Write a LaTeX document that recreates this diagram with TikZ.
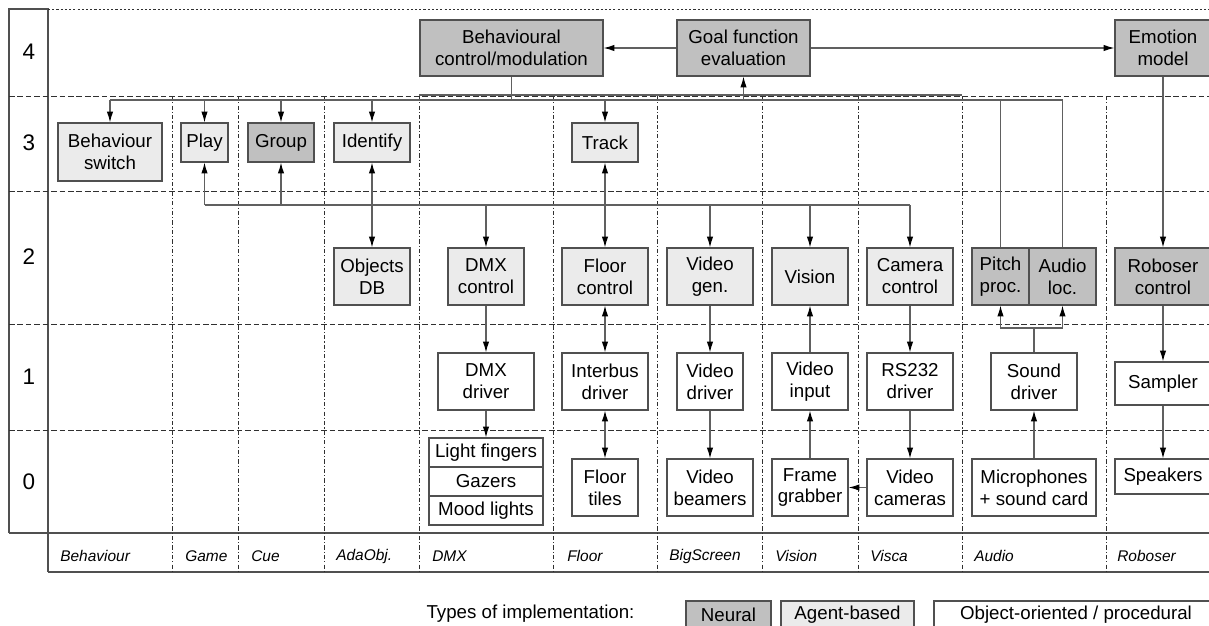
\documentclass[tikz,border=0pt]{standalone}
\usepackage{fontspec}
\setmainfont{Liberation Sans}
\usetikzlibrary{arrows.meta,positioning}
\definecolor{neuralfill}{HTML}{C0C0C0}
\definecolor{agentfill}{HTML}{EBEBEB}
\definecolor{boxline}{HTML}{505050}
\definecolor{wireline}{HTML}{606060}
\definecolor{gridline}{HTML}{303030}

\begin{document}
\begin{tikzpicture}[x=0.025cm,y=-0.025cm]
\tikzset{module/.style={draw=boxline,line width=0.8pt,align=center,inner sep=1pt,font=\fontsize{13.3}{15.6}\selectfont},
  neural/.style={module,fill=neuralfill},
  agent/.style={module,fill=agentfill},
  objproc/.style={module,fill=white},
  wire/.style={draw=wireline,line width=0.8pt},
  towire/.style={wire,-{Latex[length=2.7mm,width=1.6mm,color=black]}},
  bothwire/.style={wire,{Latex[length=2.7mm,width=1.6mm,color=black]}-{Latex[length=2.7mm,width=1.6mm,color=black]}},
  frame/.style={draw=boxline,line width=0.8pt},
  rowline/.style={draw=gridline,line width=0.5pt,dash pattern=on 4pt off 2pt},
  colline/.style={draw=gridline,line width=0.5pt,dash pattern=on 3pt off 1.5pt on 0.8pt off 1.5pt},
  layernum/.style={font=\fontsize{16}{18}\selectfont},
  subsys/.style={anchor=west,inner sep=0pt,font=\fontsize{11}{13}\selectfont\itshape}}
\useasboundingbox (0,0) rectangle (1209,625);

\draw[frame] (9,533) -- (9,9) -- (48,9) -- (48,572);
\draw[frame] (9,533) -- (1209,533) (48,572) -- (1209,572);
\draw[gridline,line width=0.5pt,dash pattern=on 1.5pt off 1.5pt] (48,9) -- (1209,9);
\draw[rowline] (9,96) -- (1209,96) (9,191) -- (1209,191) (9,324) -- (1209,324) (9,430) -- (1209,430);
\draw[colline] (172,96) -- (172,572) (238,96) -- (238,572) (324,96) -- (324,572) (419,96) -- (419,572) (553,96) -- (553,572)
  (657,96) -- (657,572) (762,96) -- (762,572) (858,96) -- (858,572) (962,96) -- (962,572) (1106,96) -- (1106,572);
\draw[wire] (419,95) -- (962,95);

\node[layernum] (lay4) at (29,52) {4};
\node[layernum] (lay3) at (29,143) {3};
\node[layernum] (lay2) at (29,257) {2};
\node[layernum] (lay1) at (29,377) {1};
\node[layernum] (lay0) at (29,482) {0};

\node[neural,minimum width=4.575cm,minimum height=1.4cm] (bcm) at (511.5,48) {Behavioural\\control/modulation};
\node[neural,minimum width=3.325cm,minimum height=1.4cm] (gfe) at (743.5,48) {Goal function\\evaluation};
\node[neural,minimum width=2.4cm,minimum height=1.4cm] (emo) at (1163,48) {Emotion\\model};

\node[agent,minimum width=2.6cm,minimum height=1.45cm] (bsw) at (110,152) {Behaviour\\switch};
\node[agent,minimum width=1.175cm,minimum height=0.975cm] (play) at (204.5,142.5) {Play};
\node[neural,minimum width=1.65cm,minimum height=0.975cm] (group) at (281,142.5) {Group};
\node[agent,minimum width=1.9cm,minimum height=0.975cm] (ident) at (372,142.5) {Identify};
\node[agent,minimum width=1.65cm,minimum height=0.975cm] (track) at (605,142.5) {Track};

\node[agent,minimum width=1.9cm,minimum height=1.425cm] (objdb) at (372,276.5) {Objects\\DB};
\node[agent,minimum width=1.9cm,minimum height=1.425cm] (dmxc) at (486,276.5) {DMX\\control};
\node[agent,minimum width=2.15cm,minimum height=1.425cm] (floorc) at (605,276.5) {Floor\\control};
\node[agent,minimum width=2.15cm,minimum height=1.425cm] (vgen) at (710,276.5) {Video\\gen.};
\node[agent,minimum width=1.9cm,minimum height=1.425cm] (vision) at (810,276.5) {Vision};
\node[agent,minimum width=2.15cm,minimum height=1.425cm] (camc) at (910,276.5) {Camera\\control};
\node[neural,minimum width=1.425cm,minimum height=1.425cm] (pitch) at (1000.5,276.5) {Pitch\\proc.};
\node[neural,minimum width=1.675cm,minimum height=1.425cm] (audloc) at (1062.5,276.5) {Audio\\loc.};
\node[neural,minimum width=2.4cm,minimum height=1.425cm] (robc) at (1163,276.5) {Roboser\\control};

\node[objproc,minimum width=2.4cm,minimum height=1.425cm] (dmxd) at (486,381.5) {DMX\\driver};
\node[objproc,minimum width=2.15cm,minimum height=1.425cm] (ibus) at (605,381.5) {Interbus\\driver};
\node[objproc,minimum width=1.65cm,minimum height=1.425cm] (vdrv) at (710,381.5) {Video\\driver};
\node[objproc,minimum width=1.9cm,minimum height=1.425cm] (vin) at (810,381.5) {Video\\input};
\node[objproc,minimum width=2.15cm,minimum height=1.425cm] (rs) at (910,381.5) {RS232\\driver};
\node[objproc,minimum width=2.15cm,minimum height=1.425cm] (sndd) at (1034,381.5) {Sound\\driver};
\node[objproc,minimum width=2.4cm,minimum height=1.075cm] (sampler) at (1163,383.5) {Sampler};

\node[objproc,minimum width=2.85cm,minimum height=0.725cm] (lf) at (486,452.5) {Light fingers};
\node[objproc,minimum width=2.85cm,minimum height=0.725cm] (gaz) at (486,481.5) {Gazers};
\node[objproc,minimum width=2.85cm,minimum height=0.725cm] (mood) at (486,510.5) {Mood lights};
\node[objproc,minimum width=1.65cm,minimum height=1.425cm] (ftiles) at (605,487.5) {Floor\\tiles};
\node[objproc,minimum width=2.15cm,minimum height=1.425cm] (vbeam) at (710,487.5) {Video\\beamers};
\node[objproc,minimum width=1.9cm,minimum height=1.425cm] (fgrab) at (810,487.5) {Frame\\grabber};
\node[objproc,minimum width=2.15cm,minimum height=1.425cm] (vcam) at (910,487.5) {Video\\cameras};
\node[objproc,minimum width=3.1cm,minimum height=1.425cm] (mic) at (1034,487.5) {Microphones\\+ sound card};
\node[objproc,minimum width=2.4cm,minimum height=0.875cm] (spk) at (1163,476.5) {Speakers};

\node[subsys] (sub-beh) at (60,556) {Behaviour};
\node[subsys] (sub-game) at (185,556) {Game};
\node[subsys] (sub-cue) at (251,556) {Cue};
\node[subsys] (sub-ada) at (336,556) {AdaObj.};
\node[subsys] (sub-dmx) at (432,556) {DMX};
\node[subsys] (sub-floor) at (567,556) {Floor};
\node[subsys] (sub-big) at (669,556) {BigScreen};
\node[subsys] (sub-vis) at (775,556) {Vision};
\node[subsys] (sub-visca) at (870,556) {Visca};
\node[subsys] (sub-aud) at (974,556) {Audio};
\node[subsys] (sub-rob) at (1117,556) {Roboser};

\node[font=\fontsize{13.3}{15.6}\selectfont] (legtitle) at (530.5,614) {Types of implementation:};
\node[neural,minimum width=2.125cm,minimum height=0.7cm] (legneural) at (728.5,615) {Neural};
\node[agent,minimum width=3.325cm,minimum height=0.7cm] (legagent) at (847.5,615) {Agent-based};
\node[objproc,minimum width=7.1cm,minimum height=0.7cm] (legobj) at (1076,615) {Object-oriented / procedural};

\coordinate (topbus) at (0,100);
\coordinate (midbus) at (0,205);
\coordinate (sndsplit) at (1034,328);

\draw[towire] (gfe) -- (bcm);
\draw[towire] (gfe) -- (emo);
\draw[wire] (bsw.north |- topbus) -- (audloc.north |- topbus);
\draw[wire] (bcm.south) -- (bcm.south |- topbus);
\draw[towire] (gfe.south |- topbus) -- (gfe.south);
\draw[towire] (bsw.north |- topbus) -- (bsw.north);
\draw[towire] (play.north |- topbus) -- (play.north);
\draw[towire] (group.north |- topbus) -- (group.north);
\draw[towire] (ident.north |- topbus) -- (ident.north);
\draw[towire] (track.north |- topbus) -- (track.north);
\draw[wire] (pitch.north) -- (pitch.north |- topbus);
\draw[wire] (audloc.north) -- (audloc.north |- topbus);

\draw[wire] (play.south |- midbus) -- (camc.north |- midbus);
\draw[towire] (play.south |- midbus) -- (play.south);
\draw[towire] (group.south |- midbus) -- (group.south);
\draw[bothwire] (ident) -- (objdb);
\draw[bothwire] (track) -- (floorc);
\draw[towire] (dmxc.north |- midbus) -- (dmxc.north);
\draw[towire] (vgen.north |- midbus) -- (vgen.north);
\draw[towire] (vision.north |- midbus) -- (vision.north);
\draw[towire] (camc.north |- midbus) -- (camc.north);

\draw[towire] (dmxc) -- (dmxd);
\draw[towire] (dmxd) -- (lf);
\draw[bothwire] (floorc) -- (ibus);
\draw[bothwire] (ibus) -- (ftiles);
\draw[towire] (vgen) -- (vdrv);
\draw[towire] (vdrv) -- (vbeam);
\draw[towire] (vin) -- (vision);
\draw[towire] (fgrab) -- (vin);
\draw[towire] (camc) -- (rs);
\draw[towire] (rs) -- (vcam);
\draw[towire] (vcam) -- (fgrab);
\draw[wire] (sndd) -- (sndsplit);
\draw[towire] (sndsplit) -| (pitch.south);
\draw[towire] (sndsplit) -| (audloc.south);
\draw[towire] (mic) -- (sndd);
\draw[towire] (emo) -- (robc);
\draw[towire] (robc) -- (sampler);
\draw[towire] (sampler) -- (spk);
\end{tikzpicture}
\end{document}
